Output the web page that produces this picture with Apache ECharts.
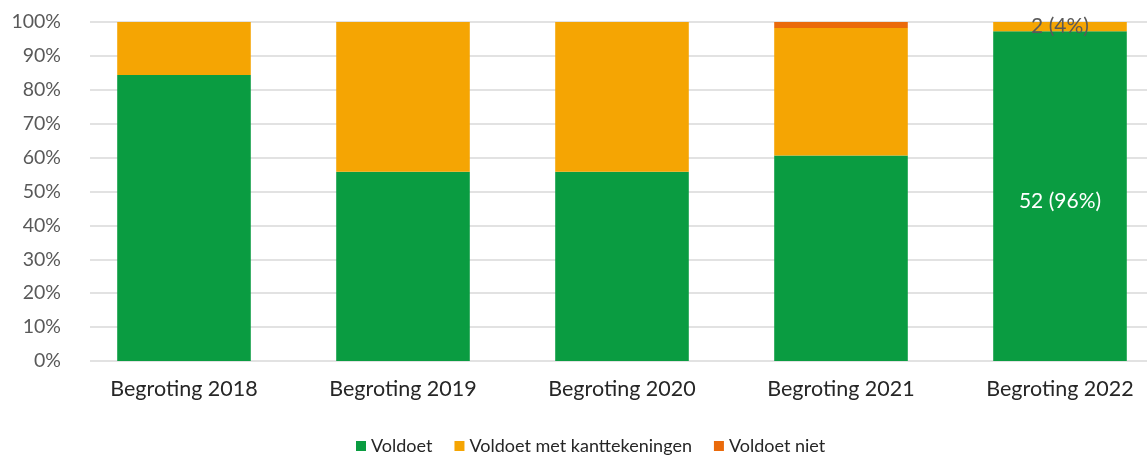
<!DOCTYPE html>
<html>
<head>
<meta charset="utf-8">
<script src="https://cdn.jsdelivr.net/npm/echarts@6/dist/echarts.min.js"></script>
<style>html,body{margin:0;padding:0;background:#fff}#c{width:1147px;height:459px}</style>
</head>
<body>
<div id="c"></div>
<script>
const categories = ['Begroting 2018', 'Begroting 2019', 'Begroting 2020', 'Begroting 2021', 'Begroting 2022'];
const seriesNames = ['Voldoet', 'Voldoet met kanttekeningen', 'Voldoet niet'];
const voldoet = [84.4, 55.8, 55.8, 60.6, 97.3];
const metKanttekeningen = [15.6, 44.2, 44.2, 37.6, 2.7];
const niet = [0, 0, 0, 1.8, 0];
const voldoetLabels = ['', '', '', '', '52 (96%)'];
const kanttekeningLabels = ['', '', '', '', '2 (4%)'];
const yTicks = [0, 100, 10];

const FONT = 'Lato, "Noto Sans", sans-serif';
const chart = echarts.init(document.getElementById('c'), null, {renderer: 'canvas'});
const colors = ['#0a9c41', '#f5a503', '#ea6a0b'];

function labelFn(arr) {
  return p => arr[p.dataIndex];
}

chart.setOption({
  animation: false,
  textStyle: {fontFamily: FONT},
  color: colors,
  legend: {
    data: seriesNames,
    top: 432,
    left: 351,
    icon: 'rect',
    itemWidth: 10,
    itemHeight: 10,
    itemGap: 22,
    textStyle: {fontSize: 18, color: '#262626', fontFamily: FONT}
  },
  grid: [
    {left: 90, right: 0, top: 22, bottom: 98, containLabel: false, outerBoundsMode: 'none'},
    {left: 74.5, width: 1095, top: 22, bottom: 98, containLabel: false, outerBoundsMode: 'none'}
  ],
  xAxis: [
    {gridIndex: 0, type: 'category', data: categories, show: false},
    {gridIndex: 1, type: 'category', data: categories,
     axisLine: {show: false}, axisTick: {show: false},
     axisLabel: {fontSize: 21.5, color: '#262626', margin: 17, fontFamily: FONT}}
  ],
  yAxis: [
    {gridIndex: 0, type: 'value', min: yTicks[0], max: yTicks[1], interval: yTicks[2],
     axisLine: {show: false}, axisTick: {show: false},
     axisLabel: {formatter: '{value}%', fontSize: 19.5, color: '#595959', margin: 29, fontFamily: FONT},
     splitLine: {lineStyle: {color: '#d9d9d9', width: 1.5}}},
    {gridIndex: 1, type: 'value', min: yTicks[0], max: yTicks[1], interval: yTicks[2], show: false,
     splitLine: {show: false}}
  ],
  series: [
    {name: seriesNames[0], type: 'bar', stack: 's', xAxisIndex: 1, yAxisIndex: 1, data: voldoet,
     barWidth: '61%',
     label: {show: true, position: 'inside', formatter: labelFn(voldoetLabels), color: '#ffffff', fontSize: 21, fontFamily: FONT, offset: [0, 5]}},
    {name: seriesNames[1], type: 'bar', stack: 's', xAxisIndex: 1, yAxisIndex: 1, data: metKanttekeningen,
     label: {show: true, position: 'inside', formatter: labelFn(kanttekeningLabels), color: '#595959', fontSize: 21, fontFamily: FONT}},
    {name: seriesNames[2], type: 'bar', stack: 's', xAxisIndex: 1, yAxisIndex: 1, data: niet}
  ]
});
</script>
</body>
</html>
